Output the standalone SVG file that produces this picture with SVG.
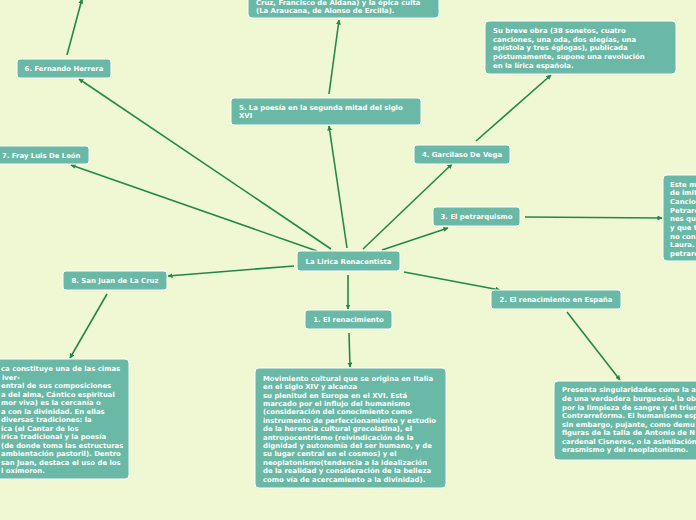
<svg xmlns="http://www.w3.org/2000/svg" width="696" height="520" viewBox="0 0 696 520">
<defs>
<marker id="ah" viewBox="0 0 10 10" refX="9" refY="5" markerWidth="5" markerHeight="5" orient="auto" markerUnits="userSpaceOnUse">
<path d="M0,0 L10,5 L0,10 z" fill="#22884a"/>
</marker>
<style>
.bg{fill:#eff8d2}
.box{fill:#6ab8a6;stroke:#ffffff;stroke-width:1}
.lbl{font-family:"DejaVu Sans",Verdana,sans-serif;font-weight:bold;font-size:6.9px;fill:#ffffff}
.c{text-anchor:middle}
.ln{stroke:#22884a;stroke-width:1.6;fill:none;marker-end:url(#ah)}
</style>
</defs>
<rect class="bg" x="0" y="0" width="696" height="520"/>
<g id="connectors">
<line class="ln" x1="348" y1="275" x2="348" y2="309"/>
<line class="ln" x1="349" y1="333" x2="350" y2="367"/>
<line class="ln" x1="404" y1="272" x2="500" y2="290"/>
<line class="ln" x1="567" y1="312" x2="620" y2="380"/>
<line class="ln" x1="382" y1="250" x2="448" y2="228"/>
<line class="ln" x1="525" y1="217" x2="662" y2="218"/>
<line class="ln" x1="363" y1="249" x2="452" y2="164"/>
<line class="ln" x1="476" y1="141" x2="551" y2="75"/>
<line class="ln" x1="347" y1="248" x2="329" y2="126"/>
<line class="ln" x1="329" y1="94" x2="339" y2="20"/>
<line class="ln" x1="331" y1="249" x2="79" y2="79"/>
<line class="ln" x1="67" y1="55" x2="82" y2="-1"/>
<line class="ln" x1="317" y1="251" x2="71" y2="165"/>
<line class="ln" x1="294" y1="266" x2="168" y2="276"/>
<line class="ln" x1="107" y1="294" x2="70" y2="358"/>
</g>
<g id="central">
<rect class="box" x="297" y="251" width="103" height="20" rx="3"/>
<text class="lbl c" x="348.5" y="263.5">La Lirica Renacentista</text>
</g>
<g id="n1">
<rect class="box" x="305" y="310" width="87" height="19" rx="3"/>
<text class="lbl c" x="348.5" y="322">1. El renacimiento</text>
</g>
<g id="n1-desc">
<rect class="box" x="255" y="368" width="191" height="120" rx="4"/>
<text class="lbl" x="263" y="380.7"><tspan x="263">Movimiento cultural que se origina en Italia</tspan><tspan x="263" dy="8.4">en el siglo XIV y alcanza</tspan><tspan x="263" dy="8.4">su plenitud en Europa en el XVI. Está</tspan><tspan x="263" dy="8.4">marcado por el influjo del humanismo</tspan><tspan x="263" dy="8.4">(consideración del conocimiento como</tspan><tspan x="263" dy="8.4">instrumento de perfeccionamiento y estudio</tspan><tspan x="263" dy="8.4">de la herencia cultural grecolatina), el</tspan><tspan x="263" dy="8.4">antropocentrismo (reivindicación de la</tspan><tspan x="263" dy="8.4">dignidad y autonomía del ser humano, y de</tspan><tspan x="263" dy="8.4">su lugar central en el cosmos) y el</tspan><tspan x="263" dy="8.4">neoplatonismo(tendencia a la idealización</tspan><tspan x="263" dy="8.4">de la realidad y consideración de la belleza</tspan><tspan x="263" dy="8.4">como vía de acercamiento a la divinidad).</tspan></text>
</g>
<g id="n2">
<rect class="box" x="491" y="290" width="130" height="19" rx="3"/>
<text class="lbl c" x="556" y="302">2. El renacimiento en España</text>
</g>
<g id="n2-desc">
<rect class="box" x="554" y="381" width="150" height="79" rx="4"/>
<text class="lbl" x="562" y="392.4"><tspan x="562">Presenta singularidades como la a</tspan><tspan x="562" dy="8.57">de una verdadera burguesía, la ob</tspan><tspan x="562" dy="8.57">por la limpieza de sangre y el triun</tspan><tspan x="562" dy="8.57">Contrarreforma. El humanismo esp</tspan><tspan x="562" dy="8.57">sin embargo, pujante, como demu</tspan><tspan x="562" dy="8.57">figuras de la talla de Antonio de N</tspan><tspan x="562" dy="8.57">cardenal Cisneros, o la asimilación</tspan><tspan x="562" dy="8.57">erasmismo y del neoplatonismo.</tspan></text>
</g>
<g id="n3">
<rect class="box" x="433" y="207" width="87" height="19" rx="3"/>
<text class="lbl c" x="476.5" y="219">3. El petrarquismo</text>
</g>
<g id="n3-desc">
<rect class="box" x="663" y="175" width="50" height="86" rx="4"/>
<text class="lbl" x="670" y="186.7"><tspan x="670">Este m</tspan><tspan x="670" dy="8.67">de imit</tspan><tspan x="670" dy="8.67">Cancio</tspan><tspan x="670" dy="8.67">Petrarc</tspan><tspan x="670" dy="8.67">nes qu</tspan><tspan x="670" dy="8.67">y que t</tspan><tspan x="670" dy="8.67">no con</tspan><tspan x="670" dy="8.67">Laura.</tspan><tspan x="670" dy="8.67">petrarc</tspan></text>
</g>
<g id="n4">
<rect class="box" x="414" y="145" width="96" height="19" rx="3"/>
<text class="lbl c" x="462" y="157">4. Garcilaso De Vega</text>
</g>
<g id="n4-desc">
<rect class="box" x="485" y="21" width="191" height="53" rx="4"/>
<text class="lbl" x="493" y="33"><tspan x="493">Su breve obra (38 sonetos, cuatro</tspan><tspan x="493" dy="8.7">canciones, una oda, dos elegías, una</tspan><tspan x="493" dy="8.7">epístola y tres églogas), publicada</tspan><tspan x="493" dy="8.7">póstumamente, supone una revolución</tspan><tspan x="493" dy="8.7">en la lírica española.</tspan></text>
</g>
<g id="n5">
<rect class="box" x="231" y="98" width="190" height="27" rx="3"/>
<text class="lbl" x="239" y="109.5"><tspan x="239">5. La poesía en la segunda mitad del siglo</tspan><tspan x="239" dy="8.4">XVI</tspan></text>
</g>
<g id="n5-desc">
<rect class="box" x="248" y="-40" width="191" height="58" rx="4"/>
<text class="lbl" x="256" y="5"><tspan x="256">Cruz, Francisco de Aldana) y la épica culta</tspan><tspan x="256" dy="8.4">(La Araucana, de Alonso de Ercilla).</tspan></text>
</g>
<g id="n6">
<rect class="box" x="17" y="59" width="94" height="19" rx="3"/>
<text class="lbl c" x="64" y="71">6. Fernando Herrera</text>
</g>
<g id="n7">
<rect class="box" x="-10" y="146" width="99" height="18" rx="3"/>
<text class="lbl" x="2" y="157.5">7. Fray Luis De León</text>
</g>
<g id="n8">
<rect class="box" x="63" y="271" width="104" height="19" rx="3"/>
<text class="lbl c" x="115" y="283">8. San Juan de La Cruz</text>
</g>
<g id="n8-desc">
<rect class="box" x="-60" y="359" width="189" height="120" rx="4"/>
<text class="lbl" x="1" y="371.4"><tspan x="1">ca constituye una de las cimas</tspan><tspan x="2" dy="8.47">iver-</tspan><tspan x="1" dy="8.47">entral de sus composiciones</tspan><tspan x="1" dy="8.47">a del alma, Cántico espiritual</tspan><tspan x="1" dy="8.47">mor viva) es la cercanía o</tspan><tspan x="1" dy="8.47">a con la divinidad. En ellas</tspan><tspan x="1" dy="8.47">diversas tradiciones: la</tspan><tspan x="1" dy="8.47">ica (el Cantar de los</tspan><tspan x="1" dy="8.47">írica tradicional y la poesía</tspan><tspan x="1" dy="8.47">(de donde toma las estructuras</tspan><tspan x="1" dy="8.47">ambientación pastoril). Dentro</tspan><tspan x="1" dy="8.47">san Juan, destaca el uso de los</tspan><tspan x="1" dy="8.47">l oxímoron.</tspan></text>
</g>
</svg>
